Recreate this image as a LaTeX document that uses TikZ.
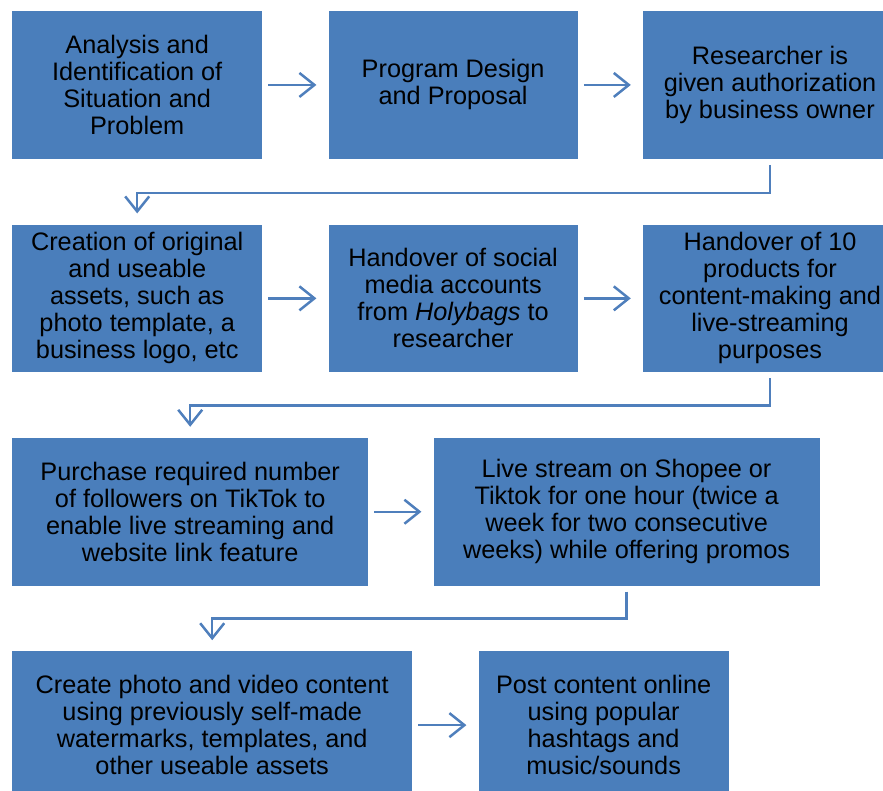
\documentclass[tikz,border=0pt]{standalone}
\usepackage{fontspec}
\setmainfont{Liberation Sans}
\usetikzlibrary{positioning,arrows.meta}

\definecolor{stageblue}{HTML}{4A7EBB}
\definecolor{flowblue}{HTML}{4F7FBC}

\begin{document}
\begin{tikzpicture}[node distance=65.5pt]
	\tikzstyle{stage}=[fill=stageblue, text=black, inner sep=0pt, align=center, minimum height=147.5pt, font=\fontsize{25.3}{27}\selectfont]
	\tikzstyle{flow}=[-{Straight Barb[length=15pt,width=24pt]}, line width=2.5pt, draw=flowblue]

	\useasboundingbox (0,0) rectangle (883pt,-791pt);
	\clip (0,0) rectangle (883pt,-791pt);

	% first row
	\node (s1) [stage, minimum width=250pt, anchor=north west] at (12pt,-11pt) {Analysis and\\Identification of\\Situation and\\Problem};
	\node (s2) [stage, minimum width=249pt, right=66pt of s1] {Program Design\\and Proposal};
	\node (s3) [stage, minimum width=254pt, right=65pt of s2] {Researcher is\\given authorization\\by business owner};

	% second row
	\node (s4) [stage, minimum width=250pt, below=of s1.south west, anchor=north west] {Creation of original\\and useable\\assets, such as\\photo template, a\\business logo, etc};
	\node (s5) [stage, minimum width=249pt, right=66pt of s4] {Handover of social\\media accounts\\from \textit{Holybags} to\\researcher};
	\node (s6) [stage, minimum width=254pt, right=65pt of s5] {Handover of 10\\products for\\content-making and\\live-streaming\\purposes};

	% third row
	\node (s7) [stage, minimum width=356pt, below=of s4.south west, anchor=north west] {Purchase required number\\of followers on TikTok to\\enable live streaming and\\website link feature};
	\node (s8) [stage, minimum width=386pt, right=65pt of s7] {Live stream on Shopee or\\Tiktok for one hour (twice a\\week for two consecutive\\weeks) while offering promos};

	% fourth row
	\node (s9) [stage, minimum width=400pt, below=of s7.south west, anchor=north west] {Create photo and video content\\using previously self-made\\watermarks, templates, and\\other useable assets};
	\node (s10) [stage, minimum width=250pt, right=66pt of s9] {Post content online\\using popular\\hashtags and\\music/sounds};

	\draw[flow] ([xshift=6pt]s1.east) -- ([xshift=-12pt]s2.west);
	\draw[flow] ([xshift=6pt]s2.east) -- ([xshift=-12pt]s3.west);
	\draw[flow] ([yshift=-6pt]s3.south) -- ++(0,-28pt) -| ([yshift=11pt]s4.north);

	\draw[flow] ([xshift=6pt]s4.east) -- ([xshift=-12pt]s5.west);
	\draw[flow] ([xshift=6pt]s5.east) -- ([xshift=-12pt]s6.west);
	\draw[flow] ([yshift=-6pt]s6.south) -- ++(0,-27pt) -| ([yshift=11pt]s7.north);

	\draw[flow] ([xshift=6pt]s7.east) -- ([xshift=-12pt]s8.west);
	\draw[flow] ([yshift=-6pt]s8.south) -- ++(0,-27pt) -| ([yshift=11pt]s9.north);

	\draw[flow] ([xshift=6pt]s9.east) -- ([xshift=-12pt]s10.west);
\end{tikzpicture}
\end{document}
